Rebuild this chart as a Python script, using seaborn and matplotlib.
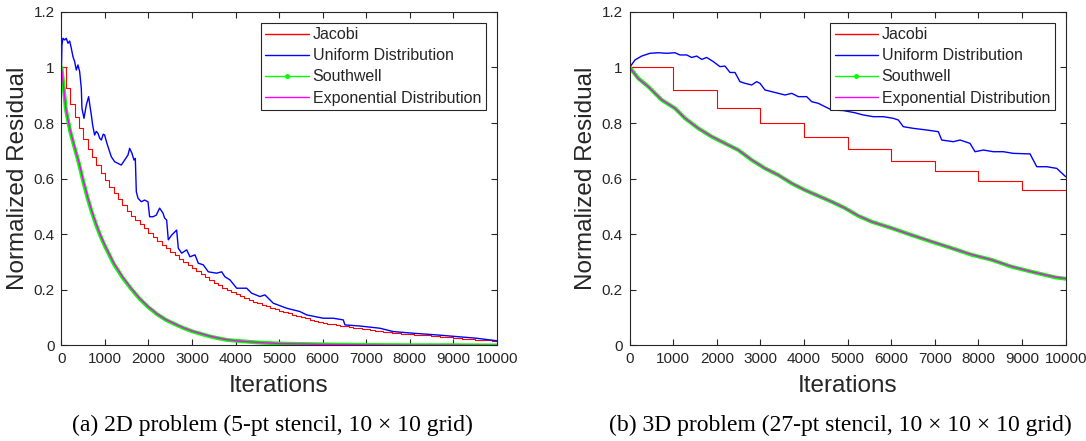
import numpy as np
import matplotlib
matplotlib.use("Agg")
import matplotlib.pyplot as plt
from matplotlib.lines import Line2D
from matplotlib.ticker import FuncFormatter, MultipleLocator
import seaborn as sns

# ---------------- data ----------------
series_names = ["Jacobi", "Uniform Distribution", "Southwell", "Exponential Distribution"]
series_colors = ["#FF0000", "#0000FF", "#00FF00", "#FF00FF"]

# 2D problem: Jacobi residual after each sweep of 100 iterations
jac2d_sweep = 100
jac2d_levels = [1.000, 0.925, 0.867, 0.821, 0.781, 0.742, 0.707, 0.677, 0.649, 0.622,
                0.595, 0.571, 0.548, 0.526, 0.504, 0.484, 0.467, 0.452, 0.436, 0.421,
                0.406, 0.391, 0.377, 0.363, 0.350, 0.337, 0.324, 0.312, 0.300, 0.289,
                0.278, 0.267, 0.256, 0.245, 0.235, 0.225, 0.216, 0.207, 0.199, 0.192,
                0.184, 0.177, 0.171, 0.164, 0.158, 0.152, 0.146, 0.141, 0.135, 0.130,
                0.125, 0.120, 0.116, 0.111, 0.106, 0.102, 0.098, 0.093, 0.089, 0.086,
                0.082, 0.079, 0.076, 0.074, 0.071, 0.069, 0.066, 0.064, 0.062, 0.060,
                0.058, 0.055, 0.053, 0.051, 0.050, 0.048, 0.046, 0.045, 0.043, 0.042,
                0.041, 0.039, 0.038, 0.037, 0.036, 0.034, 0.033, 0.032, 0.031, 0.029,
                0.028, 0.027, 0.025, 0.024, 0.023, 0.021, 0.020, 0.019, 0.018, 0.017]

uni2d_iter = [0, 11, 34, 73, 111, 149, 188, 226, 264, 303, 341, 379, 418, 456, 471, 517,
              571, 624, 663, 686, 716, 762, 800, 839, 880, 916, 960, 992, 1030, 1069,
              1145, 1222, 1298, 1375, 1452, 1528, 1567, 1620, 1666, 1697, 1720, 1758,
              1834, 1911, 1988, 2026, 2103, 2179, 2256, 2333, 2371, 2417, 2455, 2532,
              2647, 2685, 2762, 2877, 2953, 3068, 3144, 3259, 3374, 3566, 3681, 3757,
              3872, 4026, 4256, 4371, 4562, 4676, 4868, 5175, 5481, 5634, 6017, 6247,
              6476, 6515, 6860, 7319, 7625, 8084, 8622, 9082, 9541, 10000]
uni2d_res = [1.000, 1.081, 1.105, 1.099, 1.105, 1.087, 1.095, 1.069, 1.039, 1.021, 0.991,
             1.009, 0.985, 0.925, 0.853, 0.817, 0.865, 0.895, 0.853, 0.829, 0.793, 0.757,
             0.770, 0.763, 0.745, 0.739, 0.760, 0.757, 0.735, 0.715, 0.679, 0.661, 0.655,
             0.649, 0.667, 0.685, 0.709, 0.691, 0.667, 0.673, 0.553, 0.530, 0.517, 0.523,
             0.517, 0.463, 0.463, 0.469, 0.494, 0.476, 0.458, 0.451, 0.380, 0.397, 0.415,
             0.350, 0.332, 0.344, 0.319, 0.326, 0.296, 0.290, 0.265, 0.260, 0.265, 0.247,
             0.236, 0.206, 0.206, 0.188, 0.176, 0.182, 0.152, 0.134, 0.122, 0.110, 0.098,
             0.098, 0.092, 0.074, 0.070, 0.062, 0.050, 0.044, 0.038, 0.032, 0.026, 0.017]

sw2d_iter = [0, 50, 100, 200, 300, 400, 500, 600, 700, 800, 900, 1000, 1200, 1400, 1600,
             1800, 2000, 2200, 2400, 2600, 2800, 3000, 3200, 3400, 3600, 3800, 4000,
             4500, 5000, 6000, 7000, 8000, 9000, 10000]
sw2d_res = [1.000, 0.930, 0.850, 0.770, 0.712, 0.655, 0.590, 0.530, 0.478, 0.432, 0.392,
            0.357, 0.294, 0.245, 0.204, 0.167, 0.137, 0.112, 0.092, 0.077, 0.063, 0.051,
            0.042, 0.033, 0.026, 0.020, 0.017, 0.011, 0.007, 0.004, 0.002, 0.001, 0.001, 0.000]
exp2d_res = [1.000, 0.928, 0.853, 0.774, 0.715, 0.660, 0.594, 0.535, 0.482, 0.436, 0.395,
             0.360, 0.297, 0.248, 0.206, 0.169, 0.139, 0.113, 0.093, 0.078, 0.064, 0.052,
             0.043, 0.034, 0.027, 0.021, 0.017, 0.011, 0.007, 0.004, 0.002, 0.001, 0.001, 0.000]

# 3D problem: Jacobi residual after each sweep of 1000 iterations
jac3d_sweep = 1000
jac3d_levels = [1.000, 0.918, 0.853, 0.799, 0.750, 0.706, 0.665, 0.628, 0.591, 0.558]

uni3d_iter = [0, 122, 275, 466, 657, 849, 1040, 1154, 1308, 1422, 1537, 1652, 1766, 1918,
              2071, 2186, 2301, 2415, 2530, 2645, 2799, 2913, 2989, 3104, 3257, 3409,
              3563, 3716, 3868, 4060, 4175, 4327, 4480, 4634, 4900, 5169, 5359, 5588,
              5818, 6047, 6162, 6276, 6506, 6813, 7079, 7157, 7424, 7577, 7806, 7921,
              8112, 8341, 8570, 8800, 9183, 9336, 9566, 9795, 10000]
uni3d_res = [1.000, 1.027, 1.041, 1.051, 1.053, 1.051, 1.053, 1.045, 1.045, 1.036, 1.041,
             1.029, 1.036, 1.021, 1.003, 1.005, 0.982, 0.982, 0.949, 0.943, 0.937, 0.949,
             0.943, 0.919, 0.913, 0.907, 0.901, 0.907, 0.895, 0.895, 0.877, 0.871, 0.859,
             0.847, 0.845, 0.837, 0.829, 0.823, 0.823, 0.817, 0.811, 0.787, 0.781, 0.775,
             0.769, 0.739, 0.733, 0.739, 0.727, 0.697, 0.703, 0.697, 0.697, 0.691, 0.689,
             0.643, 0.643, 0.637, 0.607]

sw3d_iter = [0, 197, 427, 734, 1040, 1269, 1574, 1881, 2186, 2491, 2799, 3104, 3409, 3716,
             4021, 4327, 4634, 4939, 5244, 5552, 6010, 6469, 6928, 7387, 7845, 8304, 8763,
             9222, 9756, 10000]
sw3d_res = [1.000, 0.961, 0.931, 0.883, 0.853, 0.817, 0.781, 0.751, 0.727, 0.703, 0.667,
            0.637, 0.613, 0.583, 0.559, 0.538, 0.517, 0.494, 0.466, 0.445, 0.422, 0.397,
            0.373, 0.350, 0.326, 0.308, 0.283, 0.265, 0.245, 0.240]
exp3d_res = [1.000, 0.960, 0.931, 0.884, 0.853, 0.818, 0.781, 0.752, 0.727, 0.703, 0.668,
             0.637, 0.613, 0.584, 0.559, 0.538, 0.517, 0.494, 0.467, 0.445, 0.422, 0.397,
             0.374, 0.350, 0.327, 0.308, 0.284, 0.265, 0.246, 0.241]

captions = ["(a) 2D problem (5-pt stencil, 10 \u00d7 10 grid)",
            "(b) 3D problem (27-pt stencil, 10 \u00d7 10 \u00d7 10 grid)"]

# ---------------- style ----------------
sns.set_style("ticks")
plt.rcParams["font.family"] = ["Liberation Sans", "DejaVu Sans"]
INK = "#262626"


def steps(levels, sweep):
    xs = [sweep * k for k in range(len(levels) + 1)]
    return xs, list(levels) + [levels[-1]]


def draw_panel(ax, jac, uni, sw, ex):
    sns.lineplot(x=jac[0], y=jac[1], ax=ax, color=series_colors[0], lw=0.8,
                 drawstyle="steps-post", estimator=None, sort=False)
    sns.lineplot(x=uni[0], y=uni[1], ax=ax, color=series_colors[1], lw=1.0,
                 estimator=None, sort=False)
    sns.lineplot(x=sw[0], y=sw[1], ax=ax, color=series_colors[2], lw=2.8,
                 estimator=None, sort=False)
    sns.lineplot(x=ex[0], y=ex[1], ax=ax, color=series_colors[3], lw=1.0,
                 estimator=None, sort=False)

    ax.set_xlim(0, 10000)
    ax.set_ylim(0, 1.2)
    ax.xaxis.set_major_locator(MultipleLocator(1000))
    ax.yaxis.set_major_locator(MultipleLocator(0.2))
    ax.yaxis.set_major_formatter(FuncFormatter(lambda v, p: f"{v:g}"))
    ax.tick_params(direction="in", length=4, width=0.8, top=True, right=True,
                   labelsize=11, colors=INK, pad=5)
    for sp in ax.spines.values():
        sp.set_visible(True)
        sp.set_color(INK)
        sp.set_linewidth(0.8)
    ax.set_xlabel("Iterations", fontsize=17.5, color=INK, labelpad=6)
    ax.set_ylabel("Normalized Residual", fontsize=17.5, color=INK, labelpad=3)

    handles = [Line2D([], [], color=series_colors[0], lw=1.0),
               Line2D([], [], color=series_colors[1], lw=1.0),
               Line2D([], [], color=series_colors[2], lw=1.0, marker=".", markersize=5),
               Line2D([], [], color=series_colors[3], lw=1.0)]
    leg = ax.legend(handles, series_names, loc="upper right", bbox_to_anchor=(0.975, 0.968),
                    borderaxespad=0, fontsize=11.5, frameon=True, fancybox=False,
                    framealpha=1, edgecolor=INK, labelspacing=0.38, handlelength=2.7,
                    handletextpad=0.25, borderpad=0.3, numpoints=1)
    leg.get_frame().set_linewidth(0.8)


fig = plt.figure(figsize=(10.86, 4.41), dpi=100)
ax1 = fig.add_axes([0.0566, 0.2166, 0.4007, 0.7565])
ax2 = fig.add_axes([0.5798, 0.2166, 0.4015, 0.7565])

draw_panel(ax1, steps(jac2d_levels, jac2d_sweep), (uni2d_iter, uni2d_res),
           (sw2d_iter, sw2d_res), (sw2d_iter, exp2d_res))
draw_panel(ax2, steps(jac3d_levels, jac3d_sweep), (uni3d_iter, uni3d_res),
           (sw3d_iter, sw3d_res), (sw3d_iter, exp3d_res))

fig.text(272 / 1086, 1 - 425 / 441, captions[0], ha="center", va="center",
         family="Liberation Serif", fontsize=17, color="black")
fig.text(840 / 1086, 1 - 425 / 441, captions[1], ha="center", va="center",
         family="Liberation Serif", fontsize=17, color="black")

fig.savefig("out.png", dpi=100)
